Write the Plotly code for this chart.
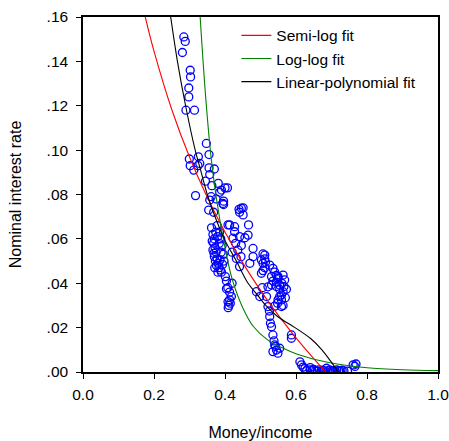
import plotly.graph_objects as go

# Observed data (money/income ratio vs nominal interest rate)
money_income = [
    0.284, 0.288, 0.280, 0.302, 0.303, 0.298, 0.298, 0.290, 0.314,
    0.3475, 0.355, 0.2995, 0.302, 0.312, 0.325, 0.329, 0.324, 0.317,
    0.355, 0.370, 0.345, 0.357, 0.363, 0.381, 0.390, 0.385, 0.407, 0.396, 0.396,
    0.357, 0.361, 0.354, 0.368, 0.375, 0.451, 0.4395, 0.446, 0.451, 0.441, 0.400, 0.394,
    0.362, 0.366, 0.370, 0.368, 0.372, 0.366, 0.375, 0.370, 0.378, 0.373, 0.381, 0.376,
    0.383, 0.387, 0.380, 0.390, 0.385, 0.378, 0.388, 0.392, 0.384, 0.395, 0.389, 0.374,
    0.397, 0.371, 0.364, 0.379, 0.386, 0.393, 0.369,
    0.404, 0.408, 0.413, 0.418, 0.413, 0.411, 0.409, 0.415, 0.401, 0.420, 0.404, 0.4085,
    0.413, 0.4663, 0.427, 0.441, 0.465, 0.446, 0.436, 0.479, 0.479, 0.470, 0.4085, 0.427,
    0.4226, 0.432, 0.441, 0.456, 0.430, 0.445, 0.420,
    0.507, 0.512, 0.512, 0.5026, 0.507, 0.514, 0.512, 0.507, 0.5026, 0.526, 0.535, 0.540,
    0.531, 0.545, 0.5495, 0.5495, 0.5636, 0.568, 0.560, 0.554, 0.573, 0.554, 0.5636, 0.545,
    0.531, 0.521, 0.559, 0.554, 0.5495, 0.559, 0.540, 0.559, 0.548, 0.5636, 0.570, 0.566,
    0.5445, 0.535,
    0.4886, 0.498, 0.517, 0.521, 0.526, 0.531, 0.535, 0.540, 0.545, 0.535, 0.554, 0.549,
    0.528, 0.538, 0.542, 0.587, 0.587, 0.525, 0.505,
    0.6155, 0.625, 0.630, 0.640, 0.645, 0.650, 0.655, 0.660, 0.665, 0.670, 0.675, 0.680,
    0.686, 0.690, 0.695, 0.700, 0.705, 0.710, 0.715, 0.720, 0.725, 0.730, 0.735, 0.745,
    0.761, 0.769, 0.766, 0.640, 0.620, 0.611,
]
interest_rate = [
    0.151, 0.149, 0.144, 0.136, 0.133, 0.128, 0.124, 0.118, 0.118,
    0.103, 0.098, 0.096, 0.093, 0.091, 0.097, 0.094, 0.093, 0.0795,
    0.092, 0.0915, 0.086, 0.089, 0.084, 0.085, 0.082, 0.081, 0.083, 0.077, 0.0755,
    0.0775, 0.079, 0.073, 0.072, 0.078, 0.074, 0.0733, 0.0738, 0.0708, 0.072, 0.083, 0.076,
    0.065, 0.062, 0.060, 0.058, 0.056, 0.055, 0.054, 0.052, 0.051, 0.050, 0.049, 0.048,
    0.047, 0.046, 0.045, 0.045, 0.063, 0.066, 0.060, 0.057, 0.058, 0.053, 0.054, 0.063,
    0.050, 0.047, 0.059, 0.061, 0.0505, 0.0485, 0.0535,
    0.041, 0.038, 0.036, 0.034, 0.0325, 0.030, 0.029, 0.031, 0.043, 0.040, 0.0375, 0.0317,
    0.0663, 0.0663, 0.0632, 0.061, 0.0617, 0.057, 0.055, 0.0557, 0.052, 0.049, 0.0663, 0.0655,
    0.0603, 0.0512, 0.0475, 0.0605, 0.058, 0.052, 0.054,
    0.0532, 0.0527, 0.051, 0.0505, 0.049, 0.0495, 0.047, 0.0457, 0.0445, 0.0482, 0.0467, 0.045,
    0.043, 0.0435, 0.043, 0.0422, 0.0437, 0.0415, 0.040, 0.0392, 0.0373, 0.0373, 0.0362, 0.0385,
    0.0392, 0.0384, 0.0347, 0.034, 0.0325, 0.0325, 0.0297, 0.0295, 0.031, 0.030, 0.0335, 0.0385,
    0.0405, 0.041,
    0.0362, 0.034, 0.034, 0.0295, 0.025, 0.0204, 0.0167, 0.0122, 0.0099, 0.0092, 0.0107, 0.0085,
    0.022, 0.014, 0.0115, 0.0167, 0.0152, 0.0275, 0.038,
    0.0032, 0.0015, 0.0008, 0.0010, 0.0005, 0.0012, 0.0006, 0.0004, 0.0010, 0.0003, 0.0008, 0.0005,
    0.0017, 0.0005, 0.0009, 0.0003, 0.0006, 0.0004, 0.0010, 0.0006, 0.0003, 0.0008, 0.0005, 0.0004,
    0.0032, 0.0036, 0.0025, 0.0020, 0.0022, 0.0046,
]

# Fitted curves
semilog_x = [0.1754, 0.20, 0.25, 0.30, 0.35, 0.40, 0.45, 0.50, 0.55, 0.60, 0.65, 0.684]
semilog_y = [0.160, 0.1446, 0.1183, 0.0969, 0.0788, 0.0631, 0.0492, 0.0368, 0.0256, 0.0154, 0.0060, 0.0]

loglog_x = [0.330, 0.345, 0.36, 0.375, 0.40, 0.42, 0.45, 0.48, 0.52, 0.56, 0.60, 0.66, 0.72, 0.80, 0.90, 1.00]
loglog_y = [0.160, 0.125, 0.098, 0.079, 0.056, 0.042, 0.029, 0.0205, 0.0145, 0.0110, 0.0082, 0.0054, 0.0035, 0.0019, 0.0010, 0.0006]

poly_x = [0.247, 0.266, 0.289, 0.316, 0.333, 0.350, 0.372, 0.398, 0.432, 0.465, 0.490, 0.515, 0.548, 0.597, 0.642, 0.673, 0.697, 0.719]
poly_y = [0.160, 0.140, 0.120, 0.100, 0.090, 0.080, 0.070, 0.060, 0.050, 0.040, 0.035, 0.030, 0.025, 0.020, 0.015, 0.010, 0.005, 0.0]

x_ticks = [0.0, 0.2, 0.4, 0.6, 0.8, 1.0]
x_ticklabels = ["0.0", "0.2", "0.4", "0.6", "0.8", "1.0"]
y_ticks = [0.00, 0.02, 0.04, 0.06, 0.08, 0.10, 0.12, 0.14, 0.16]
y_ticklabels = [".00", ".02", ".04", ".06", ".08", ".10", ".12", ".14", ".16"]

FONT = "Liberation Sans, Arial, Helvetica, sans-serif"

fig = go.Figure()
fig.add_trace(go.Scatter(
    x=money_income, y=interest_rate, mode="markers", showlegend=False,
    marker=dict(symbol="circle-open", size=8, color="#0000FF", line=dict(width=1.3, color="#0000FF")),
))
fig.add_trace(go.Scatter(x=semilog_x, y=semilog_y, mode="lines", name="Semi-log fit",
                         line=dict(color="#FF0000", width=1.1, shape="spline")))
fig.add_trace(go.Scatter(x=loglog_x, y=loglog_y, mode="lines", name="Log-log fit",
                         line=dict(color="#008000", width=1.1, shape="spline")))
fig.add_trace(go.Scatter(x=poly_x, y=poly_y, mode="lines", name="Linear-polynomial fit",
                         line=dict(color="#000000", width=1.1, shape="spline")))

axis_common = dict(
    showgrid=False, zeroline=False, showline=True, linecolor="black", linewidth=1.5,
    mirror=True, ticks="outside", ticklen=5, tickwidth=1.2, tickcolor="black",
    tickfont=dict(family=FONT, size=15.5, color="black"), ticklabeloverflow="allow",
)
fig.update_xaxes(range=[0, 1.0], tickvals=x_ticks, ticktext=x_ticklabels,
                 title=dict(text="Money/income", font=dict(family=FONT, size=16, color="black"), standoff=27),
                 ticklabelstandoff=3, **axis_common)
fig.update_yaxes(range=[0, 0.16], tickvals=y_ticks, ticktext=y_ticklabels,
                 title=dict(text="Nominal interest rate", font=dict(family=FONT, size=16, color="black"), standoff=21),
                 ticklabelstandoff=5, **axis_common)

fig.update_layout(
    width=449, height=441,
    margin=dict(l=83, r=11, t=17, b=69, autoexpand=False),
    paper_bgcolor="white", plot_bgcolor="white",
    font=dict(family=FONT, size=15, color="black"),
    legend=dict(x=0.432, y=0.995, xanchor="left", yanchor="top", bgcolor="rgba(0,0,0,0)",
                font=dict(family=FONT, size=15.5, color="black"), borderwidth=0),
)

fig.write_html("out.html")
